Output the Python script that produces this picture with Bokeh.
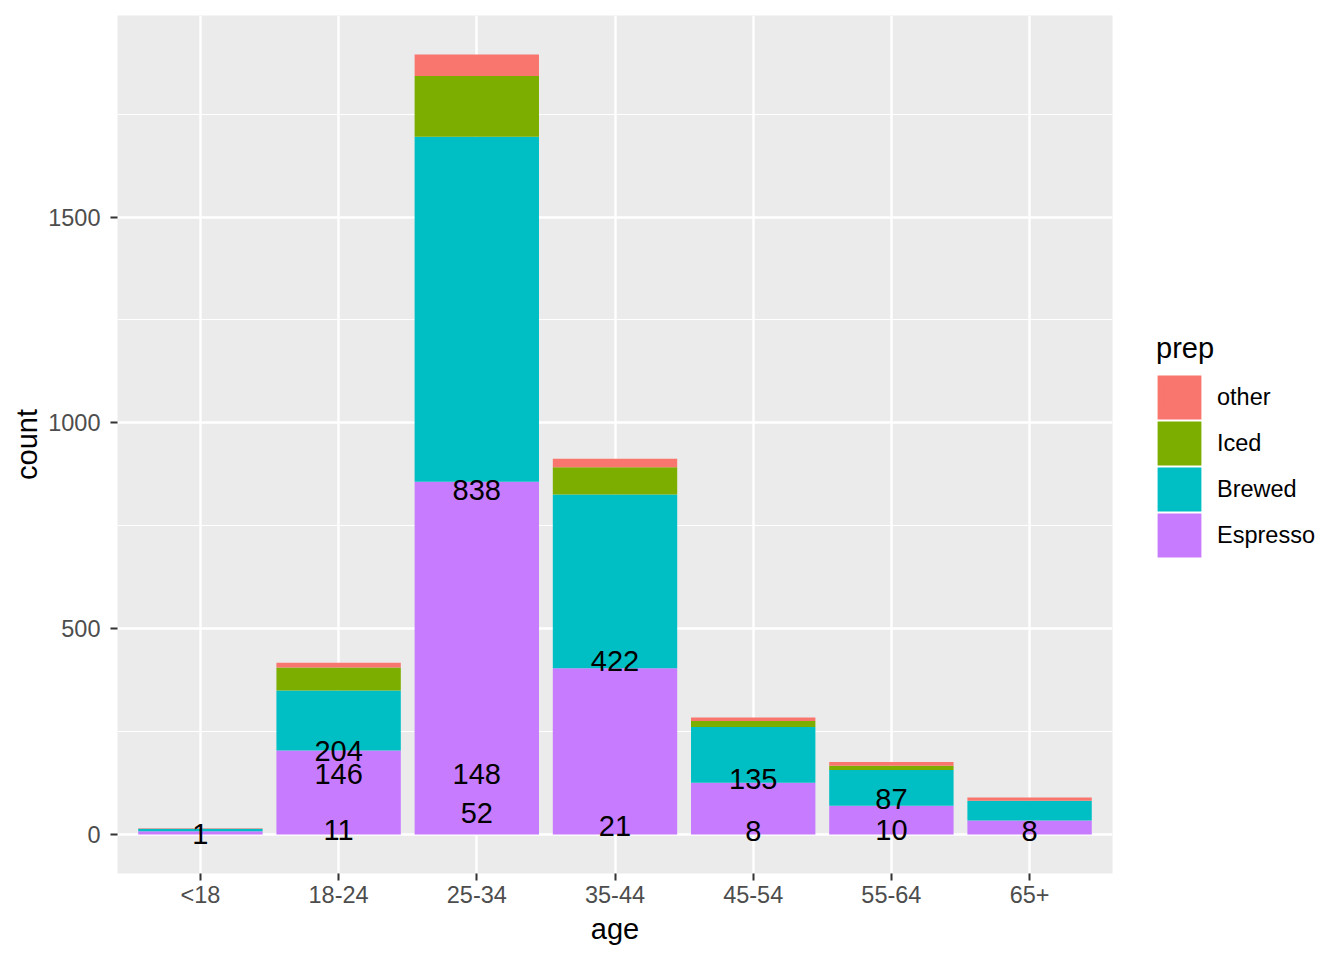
from bokeh.plotting import figure
from bokeh.models import ColumnDataSource, FactorRange, Range1d, FixedTicker, Legend, LegendItem
from bokeh.core.properties import value
from bokeh.embed import file_html
from bokeh.resources import INLINE

# ---- data ----
ages = ["<18", "18-24", "25-34", "35-44", "45-54", "55-64", "65+"]
espresso = [8, 204, 857, 404, 126, 70, 34]
brewed = [6, 146, 838, 422, 135, 87, 48]
iced = [0, 56, 148, 66, 15, 10, 0]
other = [1, 11, 52, 21, 8, 9, 8]

preps = ["Espresso", "Brewed", "Iced", "other"]
prep_colors = ["#C77CFF", "#00BFC4", "#7CAE00", "#F8766D"]

label_age = ["<18", "18-24", "18-24", "18-24", "25-34", "25-34", "25-34",
             "35-44", "35-44", "45-54", "45-54", "55-64", "55-64", "65+"]
label_n = [1, 204, 146, 11, 838, 148, 52, 422, 21, 135, 8, 87, 10, 8]

y_major = [0, 500, 1000, 1500]
y_minor = [250, 750, 1250, 1750]

FONT = "Liberation Sans"

src = ColumnDataSource(dict(age=ages, Espresso=espresso, Brewed=brewed, Iced=iced, other=other))
lab_src = ColumnDataSource(dict(age=label_age, n=label_n, txt=[str(v) for v in label_n]))

totals = [a + b + c + d for a, b, c, d in zip(espresso, brewed, iced, other)]
ymax = max(totals)

p = figure(
    x_range=FactorRange(factors=ages, range_padding=0.2 / len(ages)),
    y_range=Range1d(-0.05 * ymax, 1.05 * ymax),
    frame_width=995, frame_height=858,
    min_border_left=117, min_border_right=216, min_border_top=15, min_border_bottom=79,
    output_backend="svg", toolbar_location=None,
)

renderers = p.vbar_stack(preps, x="age", width=0.9, source=src,
                         fill_color=prep_colors, line_color=None)

p.text(x="age", y="n", text="txt", source=lab_src,
       text_font=value(FONT), text_font_size=value("29px"), text_color="black",
       text_align="center", text_baseline="middle")

# legend keys: hidden stand-in glyphs, outlined so that each key square fills
# its slot like ggplot's keys
key_renderers = []
for name, c in zip(preps, prep_colors):
    kr = p.vbar(x="age", top=name, width=0.9, source=src, visible=False,
                fill_color=c, line_color=c, line_width=7, line_join="miter")
    key_renderers.append(kr)

items = [LegendItem(label=n, renderers=[r]) for n, r in reversed(list(zip(preps, key_renderers)))]
legend = Legend(items=items, title="prep", location=(44, 315), margin=0, padding=0,
                glyph_width=46, glyph_height=46, label_height=46, spacing=0,
                label_standoff=15, border_line_color=None, background_fill_alpha=0,
                inactive_fill_alpha=0, click_policy="none",
                label_text_font=FONT, label_text_font_size="23.5px", label_text_color="black",
                title_text_font=FONT, title_text_font_size="29px", title_text_font_style="normal",
                title_text_color="black", title_standoff=9)
p.add_layout(legend, "right")

# axes
for ax in (p.xaxis, p.yaxis):
    ax.axis_line_color = None
    ax.major_tick_line_color = "#333333"
    ax.major_tick_line_width = 2
    ax.major_tick_out = 7
    ax.major_tick_in = 0
    ax.minor_tick_line_color = None
    ax.major_label_text_font = FONT
    ax.major_label_text_font_size = "23.5px"
    ax.major_label_text_color = "#4D4D4D"
    ax.axis_label_text_font = FONT
    ax.axis_label_text_font_size = "29px"
    ax.axis_label_text_font_style = "normal"
    ax.axis_label_text_color = "black"

p.xaxis.axis_label = "age"
p.yaxis.axis_label = "count"
p.yaxis.ticker = FixedTicker(ticks=y_major, minor_ticks=y_minor)
p.xaxis.major_label_standoff = 1
p.xaxis.axis_label_standoff = 2
p.yaxis.major_label_standoff = 10
p.yaxis.axis_label_standoff = 2

p.background_fill_color = "#EBEBEB"
p.border_fill_color = "white"
p.outline_line_color = None
p.xgrid.grid_line_color = "white"
p.xgrid.grid_line_width = 2.4
p.ygrid.grid_line_color = "white"
p.ygrid.grid_line_width = 2.4
p.ygrid.minor_grid_line_color = "white"
p.ygrid.minor_grid_line_width = 1.2

open("out.html", "w").write(file_html(p, INLINE))
